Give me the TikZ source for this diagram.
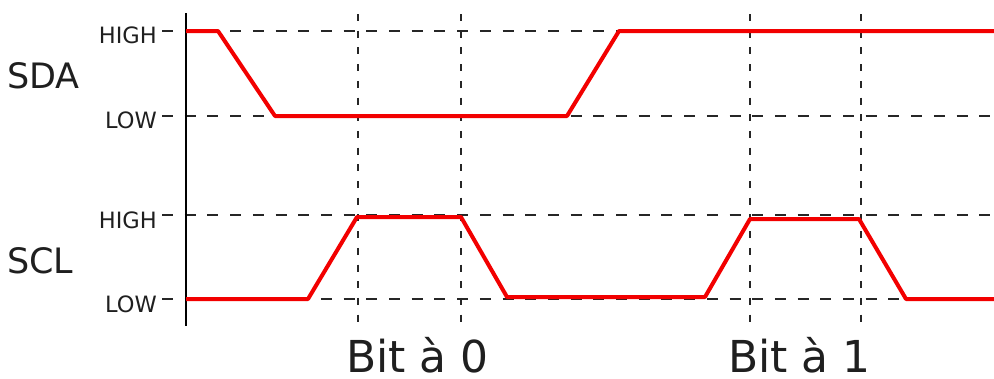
\documentclass[tikz,border=0pt]{standalone}
\usepackage{fontspec}
\setmainfont{DejaVu Sans}
\begin{document}
\begin{tikzpicture}[x=1pt,y=-1pt,
  hgrid/.style={line width=2pt,color=black!85,dash pattern=on 11pt off 11.7pt},
  vgrid/.style={line width=2pt,color=black!85,dash pattern=on 7pt off 9.7pt},
  sig/.style={line width=4pt,color=red!95!black,line join=round},
  lvllabel/.style={font=\fontsize{22.5}{22.5}\selectfont,text=black!88,anchor=base east,inner sep=0pt},
  siglabel/.style={font=\fontsize{35}{35}\selectfont,text=black!88,anchor=base west,inner sep=0pt},
  bitlabel/.style={font=\fontsize{44}{44}\selectfont,text=black!88,anchor=base west,inner sep=0pt,text depth=0pt}]
\useasboundingbox (0,0) rectangle (994,378);
% grid
\foreach \y in {31,116,215,299} \draw[hgrid] (162,\y) -- (994,\y);
\foreach \x in {358,461,750,861} \draw[vgrid] (\x,14) -- (\x,326);
% axis
\draw[line width=2pt,black] (186,13) -- (186,326);
% labels
\node[lvllabel] (sdah) at (157,43) {HIGH};
\node[lvllabel] (sdal) at (157,128) {LOW};
\node[lvllabel] (sclh) at (157,228) {HIGH};
\node[lvllabel] (scll) at (157,312) {LOW};
\node[siglabel] (sda) at (7,88) {SDA};
\node[siglabel] (scl) at (7,273) {SCL};
\node[bitlabel] (b0) at (346,372) {Bit à 0};
\node[bitlabel] (b1) at (728,372) {Bit à 1};
% signals
\draw[sig] (186,31) -- (218,31) -- (275,116) -- (567,116) -- (619,31) -- (994,31);
\draw[sig] (186,299) -- (308,299) -- (357,217) -- (461,217) -- (507,297) -- (705,297) -- (750,219) -- (859,219) -- (906,299) -- (994,299);
\end{tikzpicture}
\end{document}
